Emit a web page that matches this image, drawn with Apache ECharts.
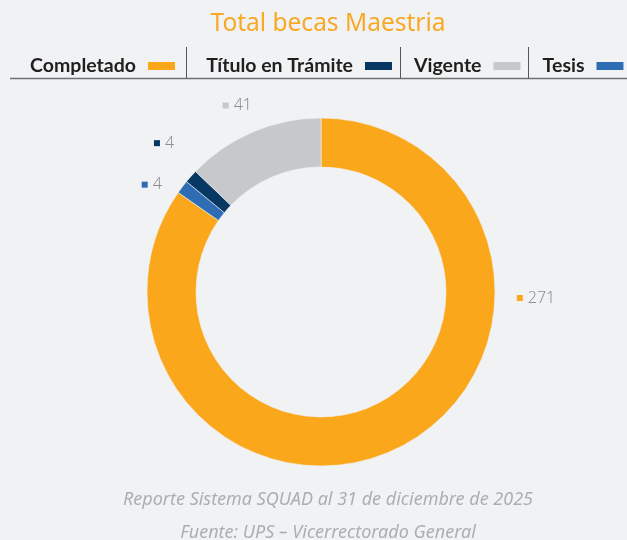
<!DOCTYPE html>
<html>
<head>
<meta charset="utf-8">
<script src="https://cdn.jsdelivr.net/npm/echarts@6/dist/echarts.min.js"></script>
<style>
  html, body { margin: 0; padding: 0; background: #F1F2F4; }
  #chart { width: 627px; height: 540px; }
</style>
</head>
<body>
<div id="chart"></div>
<script>
// Slices in drawing order (clockwise from 12 o'clock)
const categories = ['Completado', 'Tesis', 'Título en Trámite', 'Vigente'];
const values = [271, 4, 4, 41];
const colors = ['#FAA71B', '#2E6DB4', '#073763', '#C7C8CA'];
// Order of entries in the legend row
const legendOrder = ['Completado', 'Título en Trámite', 'Vigente', 'Tesis'];

const titleText = 'Total becas Maestria';
const footerLines = ['Reporte Sistema SQUAD al 31 de diciembre de 2025', 'Fuente: UPS \u2013 Vicerrectorado General'];

const CX = 321, CY = 292, INNER = 125, OUTER = 174;
const LABEL_R = OUTER + 32;
// small offsets that keep the outside labels clear of one another
const labelNudge = {
  'Completado': [9, 6],
  'Tesis': [-5, 17],
  'Título en Trámite': [-3, -12],
  'Vigente': [-3, 3]
};
// fixed text box widths so the legend entries line up with the separators
const legendTextWidth = {
  'Completado': 111,
  'Título en Trámite': 156,
  'Vigente': 67,
  'Tesis': 42
};

const total = values.reduce((a, b) => a + b, 0);
function midAngle(i) {
  let s = 0;
  for (let k = 0; k < i; k++) s += values[k];
  return (s + values[i] / 2) / total * Math.PI * 2;
}

const FONT = '"Noto Sans", "Open Sans", sans-serif';
const LEGEND_FONT = 'Lato, "Noto Sans", sans-serif';

const rich = {
  v: { fontSize: 16, color: '#8E8E90', fontFamily: FONT, fontWeight: 300, padding: [0, 0, 0, 5] }
};
colors.forEach((c, i) => { rich['m' + i] = { width: 6, height: 6, backgroundColor: c }; });

const chart = echarts.init(document.getElementById('chart'), null, { renderer: 'canvas' });

const option = {
  backgroundColor: '#F1F2F4',
  animation: false,
  color: colors,
  title: [
    {
      text: titleText,
      left: 323,
      textAlign: 'center',
      top: 7,
      textStyle: { color: '#F9A825', fontSize: 24.5, fontWeight: 'normal', fontFamily: FONT }
    },
    {
      text: footerLines.join('\n'),
      left: 323,
      textAlign: 'center',
      top: 478,
      textStyle: { color: '#ADAEB0', fontSize: 18, fontStyle: 'italic', fontWeight: 'normal', fontFamily: FONT, lineHeight: 33 }
    }
  ],
  legend: {
    data: legendOrder.map(name => ({
      name: name,
      textStyle: { width: legendTextWidth[name] }
    })),
    left: 25,
    top: 53,
    padding: 0,
    align: 'right',
    icon: 'rect',
    itemWidth: 29,
    itemHeight: 10,
    itemGap: 20,
    selectedMode: false,
    textStyle: {
      color: '#1F1F1F', fontSize: 19.5, fontWeight: 'bold', fontFamily: LEGEND_FONT,
      padding: [0, 6, 6, 0], lineHeight: 20, align: 'right'
    }
  },
  graphic: [
    { type: 'line', shape: { x1: 10, y1: 78.5, x2: 627, y2: 78.5 }, style: { stroke: '#707070', lineWidth: 1.5 } },
    { type: 'line', shape: { x1: 186.5, y1: 47, x2: 186.5, y2: 78 }, style: { stroke: '#555', lineWidth: 1 } },
    { type: 'line', shape: { x1: 400.5, y1: 47, x2: 400.5, y2: 78 }, style: { stroke: '#555', lineWidth: 1 } },
    { type: 'line', shape: { x1: 528.5, y1: 47, x2: 528.5, y2: 78 }, style: { stroke: '#555', lineWidth: 1 } }
  ],
  series: [
    {
      type: 'pie',
      center: [CX, CY],
      radius: [INNER, OUTER],
      startAngle: 90,
      clockwise: true,
      avoidLabelOverlap: false,
      emphasis: { disabled: true },
      itemStyle: { borderColor: '#F1F2F4', borderWidth: 0.6 },
      label: {
        show: true,
        position: 'outside',
        formatter: p => '{m' + p.dataIndex + '|}{v|' + p.value + '}',
        rich: rich
      },
      labelLine: { show: false },
      labelLayout: function (params) {
        const i = params.dataIndex;
        let a = midAngle(i);
        // the dominant slice carries its label at 3 o'clock
        if (values[i] / total > 0.5) a = Math.PI / 2;
        const n = labelNudge[categories[i]] || [0, 0];
        return {
          x: CX + LABEL_R * Math.sin(a) + n[0],
          y: CY - LABEL_R * Math.cos(a) + n[1],
          align: 'center',
          verticalAlign: 'middle'
        };
      },
      data: categories.map((name, i) => ({ name: name, value: values[i] }))
    }
  ]
};

chart.setOption(option);
</script>
</body>
</html>
